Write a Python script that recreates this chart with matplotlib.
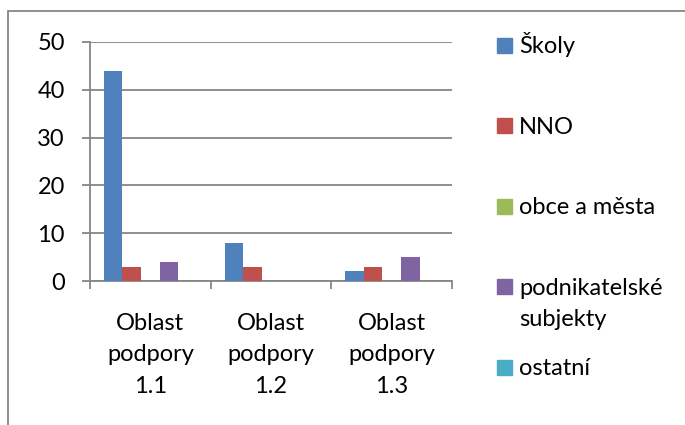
import numpy as np
import matplotlib.pyplot as plt
from matplotlib.patches import Rectangle

# data
categories = ['Oblast\npodpory\n1.1', 'Oblast\npodpory\n1.2', 'Oblast\npodpory\n1.3']
series_names = ['Školy', 'NNO', 'obce a města', 'podnikatelské\nsubjekty', 'ostatní']
skoly = [44, 8, 2]
nno = [3, 3, 3]
obce_mesta = [0, 0, 0]
podnikatelske = [4, 0, 5]
ostatni = [0, 0, 0]
colors = ['#4F81BD', '#C0504D', '#9BBB59', '#8064A2', '#4BACC6']

W, H = 685, 425
FS = 17
GREY = '#868686'
LINE_PX = 31  # line height of multi-line labels, pixels

plt.rcParams['font.family'] = ['Lato', 'DejaVu Sans']

fig = plt.figure(figsize=(W / 100, H / 100), dpi=100)

def fx(px):
    return px / W

def fy(py):
    return 1 - py / H

# chart border (only top and left visible in the original crop)
fig.patches.append(Rectangle((fx(8), fy(H + 20)), fx(W + 20), (H + 20 - 11) / H,
                             transform=fig.transFigure, fill=False,
                             edgecolor=GREY, lw=1.3))

ax = fig.add_axes([fx(90), fy(281), fx(452 - 90), (281 - 42) / H])

x = np.arange(len(categories))
bw = 1 / 6.5
all_series = [skoly, nno, obce_mesta, podnikatelske, ostatni]
for i, vals in enumerate(all_series):
    ax.bar(x + (i - 2) * bw, vals, width=bw, color=colors[i], zorder=3)

ax.set_xlim(-0.5, len(categories) - 0.5)
ax.set_ylim(0, 50)
ax.set_yticks(range(0, 51, 10))
ax.grid(axis='y', color=GREY, lw=1.3, zorder=0)

for s in ['top', 'right']:
    ax.spines[s].set_visible(False)
for s in ['left', 'bottom']:
    ax.spines[s].set_color(GREY)
    ax.spines[s].set_linewidth(1.3)

ax.tick_params(axis='y', length=6, width=1.3, color=GREY, pad=12, labelsize=FS)
ax.set_xticks(x)
ax.set_xticklabels(categories, fontsize=FS, linespacing=1.62)
ax.set_xticks(np.arange(len(categories) + 1) - 0.5, minor=True)
ax.tick_params(axis='x', which='major', length=0, pad=23)
ax.tick_params(axis='x', which='minor', length=6, width=1.3, color=GREY)

# legend drawn by hand to match the spread-out layout
for i, (name, col) in enumerate(zip(series_names, colors)):
    yc = 45 + i * 80.5
    n_extra = name.count('\n')
    fig.patches.append(Rectangle((fx(497), fy(yc + 7.5)), fx(15), 15 / H,
                                 transform=fig.transFigure, color=col))
    # baseline of a multi-line text sits on its last line
    fig.text(fx(519), fy(yc + 8 + n_extra * LINE_PX), name, fontsize=FS,
             va='baseline', ha='left', linespacing=1.55)

fig.savefig('out.png', dpi=100)
